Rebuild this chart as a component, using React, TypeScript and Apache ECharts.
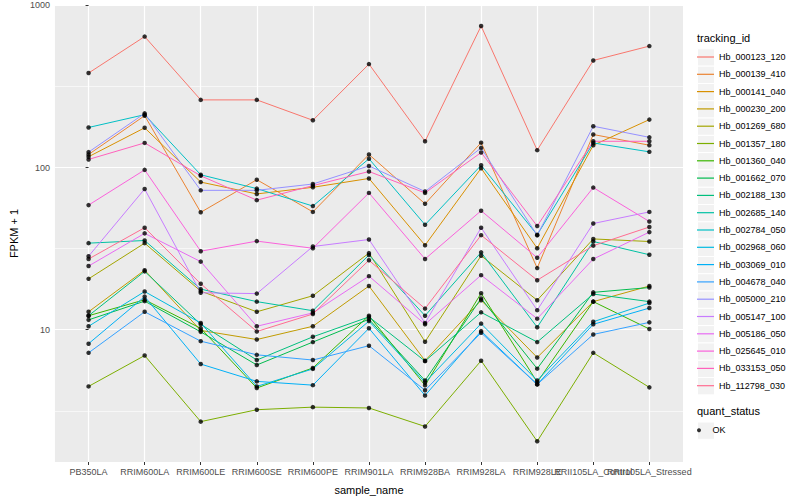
import React, { useEffect, useRef } from "react";
import * as echarts from "echarts";

const samples = [
  "PB350LA", "RRIM600LA", "RRIM600LE", "RRIM600SE", "RRIM600PE", "RRIM901LA",
  "RRIM928BA", "RRIM928LA", "RRIM928LE", "RRII105LA_Control", "RRII105LA_Stressed",
];

const trackingIds = [
  "Hb_000123_120", "Hb_000139_410", "Hb_000141_040", "Hb_000230_200", "Hb_001269_680",
  "Hb_001357_180", "Hb_001360_040", "Hb_001662_070", "Hb_002188_130", "Hb_002685_140",
  "Hb_002784_050", "Hb_002968_060", "Hb_003069_010", "Hb_004678_040", "Hb_005000_210",
  "Hb_005147_100", "Hb_005186_050", "Hb_025645_010", "Hb_033153_050", "Hb_112798_030",
];

const colors = [
  "#F8766D", "#EA8331", "#D89000", "#C09B00", "#A3A500", "#7CAE00", "#39B600", "#00BB4E",
  "#00BF7D", "#00C1A3", "#00BFC4", "#00BAE0", "#00B0F6", "#35A2FF", "#9590FF", "#C77CFF",
  "#E76BF3", "#FA62DB", "#FF62BC", "#FF6C91",
];

// FPKM + 1 per sample (same order as samples)
const hb000123 = [383, 643, 261.6, 261.6, 195.8, 435, 145.3, 747, 128.1, 458, 561.7];
const hb000139 = [120.5, 209, 53.0, 84.2, 53.3, 120.5, 59.8, 142.5, 24.0, 160, 137.4];
const hb000141 = [116.7, 176, 81.4, 68.8, 75.6, 85.7, 33.2, 99.1, 31.8, 137.4, 197.7];
const hb000230 = [12.9, 23.3, 9.9, 8.7, 10.5, 18.6, 6.44, 15.2, 6.74, 14.9, 18.6];
const hb001269 = [20.6, 34.2, 17.3, 12.9, 16.2, 29.7, 8.43, 28.6, 15.2, 36.3, 35.0];
const hb001357 = [4.47, 6.93, 2.71, 3.21, 3.33, 3.29, 2.53, 6.44, 2.05, 7.2, 4.41];
const hb001360 = [12.2, 15.3, 10.2, 4.37, 5.81, 12.2, 4.54, 16.8, 4.75, 14.9, 10.1];
const hb001662 = [11.5, 15.0, 9.7, 6.06, 8.39, 11.6, 4.86, 15.6, 5.75, 17.0, 18.2];
const hb002188 = [12.2, 22.9, 10.8, 6.5, 9.04, 12.0, 6.4, 12.8, 8.39, 16.6, 14.9];
const hb002685 = [34.2, 35.5, 17.8, 14.9, 13.1, 28.9, 12.2, 30.0, 10.35, 35.0, 29.0];
const hb002784 = [176.8, 212, 90.3, 74.2, 57.9, 113.4, 44.4, 103.3, 38.5, 141.9, 125.1];
const hb002968 = [10.5, 17.2, 11.0, 4.47, 5.73, 11.3, 4.73, 10.9, 4.86, 11.2, 14.6];
const hb003069 = [8.2, 16.0, 6.14, 4.8, 4.55, 10.2, 3.93, 9.8, 4.6, 10.8, 13.6];
const hb004678 = [7.2, 12.9, 8.5, 7.0, 6.5, 7.97, 4.23, 9.57, 4.6, 9.35, 11.1];
const hb005000 = [124.6, 216, 72.4, 72.4, 79.2, 102.4, 71.2, 132.3, 38.2, 180, 153.7];
const hb005147 = [28.4, 73.8, 16.9, 16.7, 32.6, 36.0, 11.0, 42.6, 13.2, 45.2, 53.3];
const hb005186 = [24.7, 39.3, 26.3, 10.5, 12.7, 21.4, 10.8, 21.7, 11.7, 27.3, 40.0];
const hb025645 = [58.7, 96.8, 30.5, 35.2, 31.8, 69.8, 27.3, 54.2, 27.8, 75.3, 46.5];
const hb033153 = [112.3, 142, 89.0, 63.0, 77.4, 94.6, 69.8, 123.9, 43.6, 145.3, 145.3];
const hb112798 = [27.3, 42.6, 19.2, 9.75, 12.5, 26.8, 13.5, 38.3, 20.2, 33.0, 43.0];

const seriesValues = [
  hb000123, hb000139, hb000141, hb000230, hb001269, hb001357, hb001360, hb001662, hb002188,
  hb002685, hb002784, hb002968, hb003069, hb004678, hb005000, hb005147, hb005186, hb025645,
  hb033153, hb112798,
];

const majorTicks = [1, 2, 3]; // log10 of 10, 100, 1000
const minorTicks = [0.5, 1.5, 2.5];
const yMin = 0.184;
const yMax = 3.003;

const FONT = "Liberation Sans, Arial, sans-serif";

export default function App() {
  const ref = useRef<HTMLDivElement>(null);

  useEffect(() => {
    if (!ref.current) return;
    const chart = echarts.init(ref.current, null, { renderer: "svg" });
    const allIdx = samples.map((_, i) => i);
    // labels split over two bottom axes so that touching labels are all kept
    const evenIdx = allIdx.filter((i) => i % 2 === 0);
    const oddIdx = allIdx.filter((i) => i % 2 === 1);

    const lineSeries: any[] = trackingIds.map((id, k) => ({
      name: id,
      type: "line",
      data: seriesValues[k].map((v, i) => [i, Math.log10(v)]),
      symbol: "none",
      lineStyle: { color: colors[k], width: 1 },
      itemStyle: { color: colors[k] },
      silent: true,
      z: 2,
    }));

    const pts: number[][] = [];
    seriesValues.forEach((arr) => arr.forEach((v, i) => pts.push([i, Math.log10(v)])));

    const legTop = 48.35;
    const pitch = 17.3;
    const keyRect = (top: number) => ({
      type: "rect",
      left: 697,
      top,
      shape: { width: 17, height: pitch },
      style: { fill: "#F2F2F2", stroke: "#FFFFFF", lineWidth: 1 },
      z: 1,
      silent: true,
    });
    const keyRects: any[] = trackingIds.map((_, i) => keyRect(legTop + i * pitch));
    keyRects.push(keyRect(421.5));

    const xAxisBase = (values: number[]) => ({
      type: "value",
      min: -0.6,
      max: 10.6,
      position: "bottom",
      axisLine: { show: false },
      axisTick: {
        show: true,
        customValues: values,
        length: 3,
        lineStyle: { color: "#333333", width: 1 },
      },
      axisLabel: {
        customValues: values,
        formatter: (v: number) => samples[Math.round(v)] ?? "",
        fontSize: 9,
        color: "#4D4D4D",
        margin: 5,
        showMinLabel: true,
        showMaxLabel: true,
        fontFamily: FONT,
      },
      splitLine: { show: true, lineStyle: { color: "#FFFFFF", width: 1.2 } },
    });

    chart.setOption({
      animation: false,
      backgroundColor: "#FFFFFF",
      textStyle: { fontFamily: FONT },
      grid: {
        left: 45,
        right: 117,
        top: 5,
        bottom: 32,
        show: true,
        backgroundColor: "#EBEBEB",
        borderWidth: 0,
      },
      xAxis: [
        {
          ...xAxisBase(evenIdx),
          name: "sample_name",
          nameLocation: "middle",
          nameGap: 22,
          nameTextStyle: { fontSize: 11, color: "#000000", fontFamily: FONT },
        },
        xAxisBase(oddIdx),
      ],
      yAxis: [
        {
          type: "value",
          min: yMin,
          max: yMax,
          name: "FPKM + 1",
          nameLocation: "middle",
          nameGap: 30,
          nameTextStyle: { fontSize: 11, color: "#000000", fontFamily: FONT },
          axisLine: { show: false },
          axisTick: {
            show: true,
            customValues: majorTicks,
            length: 3,
            lineStyle: { color: "#333333", width: 1 },
          },
          axisLabel: {
            customValues: majorTicks,
            formatter: (v: number) => String(Math.round(Math.pow(10, v))),
            fontSize: 9,
            color: "#4D4D4D",
            margin: 5,
            fontFamily: FONT,
          },
          splitLine: { show: true, lineStyle: { color: "#FFFFFF", width: 1.2 } },
        },
        {
          type: "value",
          min: yMin,
          max: yMax,
          position: "left",
          axisLine: { show: false },
          axisTick: {
            show: true,
            length: 0,
            customValues: minorTicks,
            lineStyle: { color: "rgba(0,0,0,0)" },
          },
          axisLabel: { show: false, customValues: minorTicks },
          splitLine: { show: true, lineStyle: { color: "#FFFFFF", width: 0.6 } },
        },
      ],
      legend: [
        {
          orient: "vertical",
          left: 697,
          top: legTop,
          padding: 0,
          itemWidth: 17,
          itemHeight: 1.2,
          itemGap: 0,
          icon: "rect",
          selectedMode: false,
          data: trackingIds,
          textStyle: { fontSize: 9, color: "#000000", lineHeight: pitch, fontFamily: FONT },
          z: 10,
        },
        {
          orient: "vertical",
          left: 697,
          top: 421.5,
          padding: 0,
          itemWidth: 17,
          itemHeight: 4,
          itemGap: 0,
          icon: "circle",
          selectedMode: false,
          data: ["OK"],
          textStyle: { fontSize: 9, color: "#000000", lineHeight: pitch, fontFamily: FONT },
          z: 10,
        },
      ],
      graphic: [
        ...keyRects,
        {
          type: "text",
          left: 697,
          top: 32,
          style: { text: "tracking_id", fontSize: 11, fill: "#000000", fontFamily: FONT },
          z: 10,
        },
        {
          type: "text",
          left: 697,
          top: 405,
          style: { text: "quant_status", fontSize: 11, fill: "#000000", fontFamily: FONT },
          z: 10,
        },
      ],
      series: [
        {
          name: "minor-grid",
          type: "line",
          xAxisIndex: 0,
          yAxisIndex: 1,
          data: [],
          silent: true,
          z: 1,
        },
        {
          name: "odd-sample-axis",
          type: "line",
          xAxisIndex: 1,
          yAxisIndex: 0,
          data: [],
          silent: true,
          z: 1,
        },
        ...lineSeries,
        {
          name: "OK",
          type: "scatter",
          data: pts,
          symbol: "circle",
          symbolSize: 4.5,
          itemStyle: { color: "#000000" },
          silent: true,
          z: 3,
        },
      ],
    });

    return () => chart.dispose();
  }, []);

  return (
    <div
      ref={ref}
      style={{ position: "fixed", left: 0, top: 0, width: 800, height: 500 }}
    />
  );
}
